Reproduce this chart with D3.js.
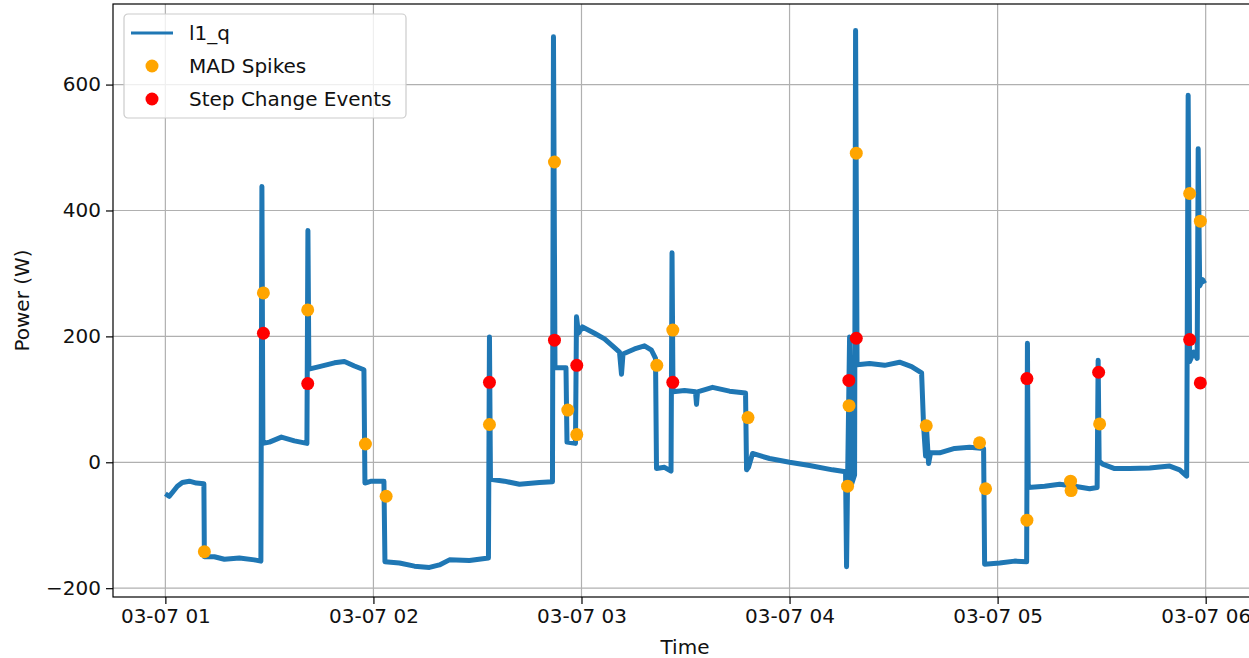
<!DOCTYPE html>
<html>
<head>
<meta charset="utf-8">
<script src="https://cdn.jsdelivr.net/npm/d3@7"></script>
<style>
  body { margin: 0; background: #fff; }
  svg text { font-family: "DejaVu Sans", sans-serif; font-size: 20px; fill: #111; }
</style>
</head>
<body>
<svg class="chart" width="1249" height="658"></svg>
<script>

/*Readings of the l1_q trace, in minutes after 03-07 01:00, and the power in W.*/
var qMinutes = [0, 1.15, 2.31, 3.46, 4.9, 6.92, 8.94, 11.11, 11.25, 14.13, 17.02, 21.35, 25.67, 27.55, 27.84, 28.13,
  30, 33.46, 37.21, 40.82, 41.11, 41.39, 44.42, 48.75, 51.63, 54.52, 57.26, 57.55, 59.42, 63.03, 63.32,
  67.5, 71.83, 76.15, 79.04, 81.92, 87.69, 93.17, 93.46, 93.75, 97.79, 102.12, 107.88, 111.63, 111.92,
  112.36, 115.53, 115.82, 118.27, 118.56, 119.13, 120.29, 123.75, 126.63, 129.52, 130.96, 131.54, 131.97,
  135.29, 138.17, 140.19, 141.35, 141.63, 143.94, 145.82, 146.11, 146.39, 149.71, 152.88, 153.17, 153.46,
  157.79, 162.69, 167.31, 167.6, 168.17, 169.33, 174.23, 180, 185.77, 192.4, 196.15, 196.44, 196.73,
  197.31, 197.88, 198.75, 199.04, 199.47, 203.08, 207.4, 211.73, 215.19, 218.08, 218.65, 219.23, 219.52,
  220.1, 220.67, 223.27, 227.6, 231.92, 235.96, 236.25, 240.58, 244.9, 248.37, 248.6, 248.83, 253.56,
  257.88, 262.21, 266.54, 268.7, 268.99, 269.28, 270.29, 273.75, 278.08, 283.85, 289.62, 292.5, 294.52,
  294.95, 295.38, 296.54, 297.55, 297.84, 298.27, 299.13, 299.71];
var qValues = [-50, -54, -46, -38, -32, -30, -33, -34, -150, -150, -154, -152, -155, -157, 438, 30,
  32, 40, 34, 30, 368, 148, 152, 158, 160, 153, 147, -33, -30, -30, -158,
  -160, -165, -167, -163, -155, -156, -152, 199, -27, -30, -35, -32, -31, 676,
  150, 150, 32, 30, 231, 205, 215, 205, 196, 182, 175, 140, 172,
  180, 185, 178, 165, -10, -8, -14, 333, 112, 114, 112, 92, 112,
  119, 113, 110, -12, -8, 14, 6, 0, -5, -12, -15, -166, -30,
  199, -35, -20, 686, 155, 157, 154, 159, 152, 142, 58, 10, 52,
  -2, 15, 15, 22, 24, 22, -162, -160, -157, -158, 189, -40, -38,
  -35, -38, -42, -40, 162, 2, -3, -10, -10, -9, -6, -12, -22,
  583, 160, 175, 165, 498, 280, 290, 284];

/*MAD spikes (orange) and step change events (red).*/
var madMinutes = [11.25, 28.27, 41.05, 57.69, 63.66, 93.46, 112.21, 116.05, 118.64, 141.72, 146.33, 168.02,
  196.73, 197.16, 199.24, 219.42, 234.8, 236.53, 248.45, 261.04, 261.19, 269.42, 295.38, 298.46];
var madValues = [-142, 269, 242, 29, -54, 60, 477, 83, 44, 154, 210, 71,
  -38, 90, 491, 58, 31, -42, -92, -30, -45, 61, 427, 383];

var stepMinutes = [28.27, 41.05, 93.46, 112.21, 118.64, 146.33, 197.1, 199.24, 248.45, 269.13, 295.38, 298.46];
var stepValues = [205, 125, 127, 194, 154, 127, 130, 197, 133, 143, 195, 126];

/*Axis limits (minutes after 01:00 and W).*/
var xLimits = [-15.1, 314.8];
var yLimits = [-214, 728];
var yTicks = [-200, 0, 200, 400, 600];
var legendLabels = ["l1_q", "MAD Spikes", "Step Change Events"];

var startTime = new Date(2025, 2, 7, 1, 0, 0);
function toTime(m) { return new Date(startTime.getTime() + m * 60000); }

var svg = d3.select(".chart"),
    margin = {top: 4, right: -8, bottom: 61, left: 113},
    width = +svg.attr("width") - margin.left - margin.right,
    height = +svg.attr("height") - margin.top - margin.bottom;

var x = d3.scaleTime().domain(xLimits.map(toTime)).range([0, width]),
    y = d3.scaleLinear().domain(yLimits).range([height, 0]);

var g = svg.append("g").attr("transform", "translate(" + margin.left + "," + margin.top + ")");

svg.append("defs").append("clipPath").attr("id", "plot")
  .append("rect").attr("width", width).attr("height", height);

/*Grid lines*/
var hours = x.ticks(d3.timeHour.every(1));
g.append("g").selectAll("line").data(hours).enter().append("line")
    .attr("x1", function(d) { return x(d); }).attr("x2", function(d) { return x(d); })
    .attr("y1", 0).attr("y2", height)
    .attr("stroke", "#b0b0b0").attr("stroke-width", 1.2);
g.append("g").selectAll("line").data(yTicks).enter().append("line")
    .attr("x1", 0).attr("x2", width)
    .attr("y1", function(d) { return y(d); }).attr("y2", function(d) { return y(d); })
    .attr("stroke", "#b0b0b0").attr("stroke-width", 1.2);

/*The trace*/
var line = d3.line()
    .x(function(d, i) { return x(toTime(qMinutes[i])); })
    .y(function(d) { return y(d); });

g.append("path")
    .datum(qValues)
    .attr("clip-path", "url(#plot)")
    .attr("fill", "none")
    .attr("stroke", "#1f77b4")
    .attr("stroke-width", 5)
    .attr("stroke-linejoin", "round")
    .attr("d", line);

/*Scatter points*/
g.append("g").selectAll("circle").data(madValues).enter().append("circle")
    .attr("cx", function(d, i) { return x(toTime(madMinutes[i])); })
    .attr("cy", function(d) { return y(d); })
    .attr("r", 6.5)
    .attr("fill", "orange");

g.append("g").selectAll("circle").data(stepValues).enter().append("circle")
    .attr("cx", function(d, i) { return x(toTime(stepMinutes[i])); })
    .attr("cy", function(d) { return y(d); })
    .attr("r", 6.5)
    .attr("fill", "red");

/*Axes*/
var xAxis = g.append("g")
    .attr("transform", "translate(0," + height + ")")
    .call(d3.axisBottom(x).ticks(d3.timeHour.every(1)).tickFormat(d3.timeFormat("%m-%d %H")).tickSize(7).tickPadding(5));
var yAxis = g.append("g")
    .call(d3.axisLeft(y).tickValues(yTicks).tickSize(7).tickPadding(5));

[xAxis, yAxis].forEach(function(a) {
  a.select(".domain").remove();
  a.selectAll(".tick line").attr("stroke", "#000").attr("stroke-width", 1.2);
  a.selectAll(".tick text").attr("font-size", null).attr("font-family", null).attr("fill", null);
  a.attr("font-size", null).attr("font-family", null);
});

/*Spines*/
g.append("rect")
    .attr("width", width).attr("height", height)
    .attr("fill", "none").attr("stroke", "#000").attr("stroke-width", 1.2);

/*Axis labels*/
svg.append("text")
    .attr("x", margin.left + (1257 - margin.left) / 2)
    .attr("y", 654)
    .attr("text-anchor", "middle")
    .text("Time");
svg.append("text")
    .attr("transform", "translate(29," + (margin.top + height / 2) + ") rotate(-90)")
    .attr("text-anchor", "middle")
    .text("Power (W)");

/*Legend*/
var legend = svg.append("g").attr("transform", "translate(124,14)");
legend.append("rect")
    .attr("width", 282).attr("height", 104).attr("rx", 4)
    .attr("fill", "#fff").attr("fill-opacity", 0.8)
    .attr("stroke", "#cccccc").attr("stroke-width", 1.2);

var rows = legend.selectAll(".row").data(legendLabels).enter().append("g")
    .attr("class", "row")
    .attr("transform", function(d, i) { return "translate(0," + (19 + i * 33) + ")"; });

rows.filter(function(d, i) { return i == 0; }).append("line")
    .attr("x1", 7).attr("x2", 49).attr("stroke", "#1f77b4").attr("stroke-width", 3);
rows.filter(function(d, i) { return i > 0; }).append("circle")
    .attr("cx", 28).attr("r", 6.5)
    .attr("fill", function(d, i) { return i == 0 ? "orange" : "red"; });
rows.append("text")
    .attr("x", 65).attr("dy", "0.35em")
    .text(function(d) { return d; });

</script>
</body>
</html>
